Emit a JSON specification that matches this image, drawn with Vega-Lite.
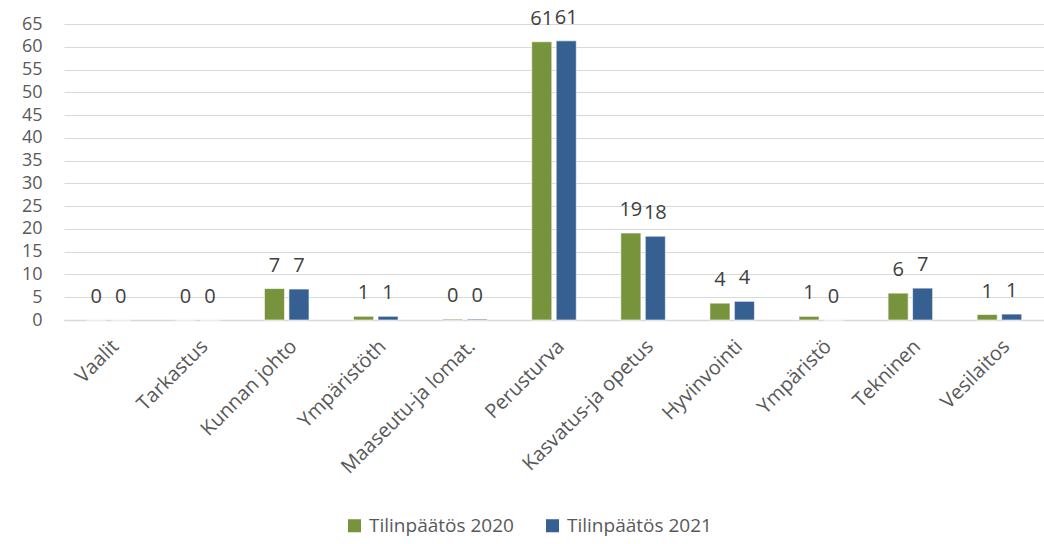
{
  "$schema": "https://vega.github.io/schema/vega-lite/v6.json",
  "autosize": {"type": "none"},
  "width": 980,
  "height": 296,
  "padding": {"left": 64, "top": 24, "right": 0, "bottom": 224},
  "background": "white",
  "config": {
    "view": {"stroke": null},
    "font": "Open Sans"
  },
  "data": {
    "values": [
      {"cat": "Vaalit", "series": "Tilinpäätös 2020", "value": 0},
      {"cat": "Vaalit", "series": "Tilinpäätös 2021", "value": 0},
      {"cat": "Tarkastus", "series": "Tilinpäätös 2020", "value": 0},
      {"cat": "Tarkastus", "series": "Tilinpäätös 2021", "value": 0},
      {"cat": "Kunnan johto", "series": "Tilinpäätös 2020", "value": 6.9},
      {"cat": "Kunnan johto", "series": "Tilinpäätös 2021", "value": 6.8},
      {"cat": "Ympäristöth", "series": "Tilinpäätös 2020", "value": 0.8},
      {"cat": "Ympäristöth", "series": "Tilinpäätös 2021", "value": 0.8},
      {"cat": "Maaseutu-ja lomat.", "series": "Tilinpäätös 2020", "value": 0.2},
      {"cat": "Maaseutu-ja lomat.", "series": "Tilinpäätös 2021", "value": 0.2},
      {"cat": "Perusturva", "series": "Tilinpäätös 2020", "value": 61.1},
      {"cat": "Perusturva", "series": "Tilinpäätös 2021", "value": 61.3},
      {"cat": "Kasvatus-ja opetus", "series": "Tilinpäätös 2020", "value": 19.1},
      {"cat": "Kasvatus-ja opetus", "series": "Tilinpäätös 2021", "value": 18.4},
      {"cat": "Hyvinvointi", "series": "Tilinpäätös 2020", "value": 3.7},
      {"cat": "Hyvinvointi", "series": "Tilinpäätös 2021", "value": 4.1},
      {"cat": "Ympäristö", "series": "Tilinpäätös 2020", "value": 0.8},
      {"cat": "Ympäristö", "series": "Tilinpäätös 2021", "value": 0},
      {"cat": "Tekninen", "series": "Tilinpäätös 2020", "value": 5.9},
      {"cat": "Tekninen", "series": "Tilinpäätös 2021", "value": 7.0},
      {"cat": "Vesilaitos", "series": "Tilinpäätös 2020", "value": 1.2},
      {"cat": "Vesilaitos", "series": "Tilinpäätös 2021", "value": 1.3}
    ]
  },
  "encoding": {
    "x": {
      "field": "cat",
      "type": "nominal",
      "sort": null,
      "scale": {"paddingInner": 0.5, "paddingOuter": 0.25},
      "axis": {
        "title": null,
        "labelAngle": -45,
        "labelAlign": "right",
        "labelBaseline": "top",
        "labelFontSize": 20,
        "labelColor": "#595959",
        "labelPadding": 16,
        "ticks": false,
        "domainColor": "#D9D9D9",
        "domainWidth": 1.5,
        "labelOverlap": false
      }
    },
    "xOffset": {"field": "series", "type": "nominal", "scale": {"paddingInner": 0.18}},
    "y": {
      "field": "value",
      "type": "quantitative",
      "scale": {"domain": [0, 65], "nice": false},
      "axis": {
        "title": null,
        "values": [0, 5, 10, 15, 20, 25, 30, 35, 40, 45, 50, 55, 60, 65],
        "labelFontSize": 18,
        "labelColor": "#595959",
        "labelPadding": 22,
        "ticks": false,
        "domain": false,
        "gridColor": "#D9D9D9",
        "gridWidth": 1.2
      }
    }
  },
  "layer": [
    {
      "mark": {"type": "bar", "stroke": "white", "strokeWidth": 0.6},
      "encoding": {
        "color": {
          "field": "series",
          "type": "nominal",
          "scale": {"domain": ["Tilinpäätös 2020", "Tilinpäätös 2021"], "range": ["#77933C", "#376092"]},
          "legend": {
            "title": null,
            "orient": "none",
            "legendX": 281,
            "legendY": 492,
            "direction": "horizontal",
            "columns": 2,
            "columnPadding": 29,
            "symbolType": "square",
            "symbolSize": 170,
            "symbolStrokeWidth": 0,
            "labelFontSize": 19,
            "labelColor": "#595959",
            "labelOffset": 5
          }
        }
      }
    },
    {
      "mark": {"type": "text", "baseline": "alphabetic", "dy": -17, "fontSize": 20, "color": "#404040"},
      "encoding": {
        "text": {"field": "value", "type": "quantitative", "format": ".0f"}
      }
    }
  ]
}
